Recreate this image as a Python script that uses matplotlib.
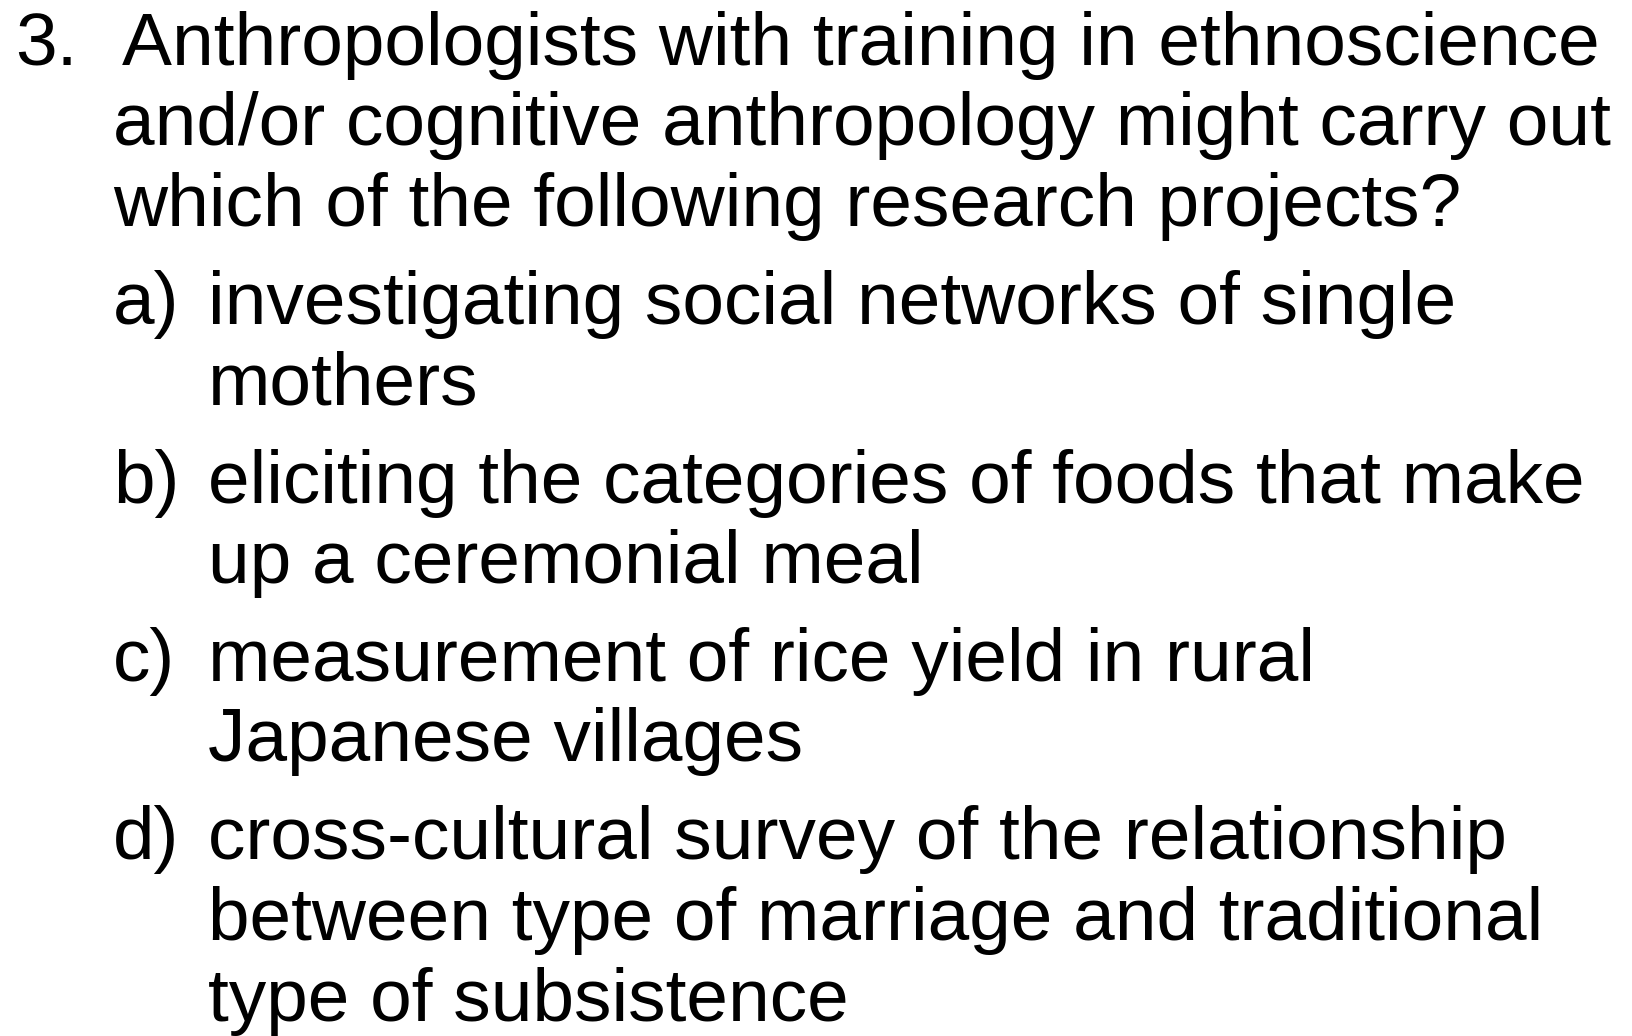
import matplotlib
matplotlib.use("Agg")
import matplotlib.pyplot as plt

plt.rcParams['font.family'] = ['Liberation Sans', 'DejaVu Sans']

question_num = "3."
question_lines = [
    "Anthropologists with training in ethnoscience",
    "and/or cognitive anthropology might carry out",
    "which of the following research projects?",
]
option_labels = ["a)", "b)", "c)", "d)"]
option_lines = [
    ["investigating social networks of single", "mothers"],
    ["eliciting the categories of foods that make", "up a ceremonial meal"],
    ["measurement of rice yield in rural", "Japanese villages"],
    ["cross-cultural survey of the relationship",
     "between type of marriage and traditional",
     "type of subsistence"],
]

W, H = 1632, 1036
fig = plt.figure(figsize=(W / 100, H / 100), dpi=100)
ax = fig.add_axes([0, 0, 1, 1])
ax.set_xlim(0, W)
ax.set_ylim(H, 0)
ax.axis('off')

fs = 53.9
pitch = 80.5   # line spacing inside one paragraph
gap = 98       # spacing between paragraphs

y = 65
ax.text(15, y, question_num, fontsize=fs, va='baseline', ha='left')
for i, line in enumerate(question_lines):
    x = 122 if i == 0 else 113
    ax.text(x, y, line, fontsize=fs, va='baseline', ha='left')
    y += pitch
y += gap - pitch

for lab, lines in zip(option_labels, option_lines):
    ax.text(113, y, lab, fontsize=fs, va='baseline', ha='left')
    for line in lines:
        ax.text(208, y, line, fontsize=fs, va='baseline', ha='left')
        y += pitch
    y += gap - pitch

fig.savefig("out.png", dpi=100, facecolor='white')
